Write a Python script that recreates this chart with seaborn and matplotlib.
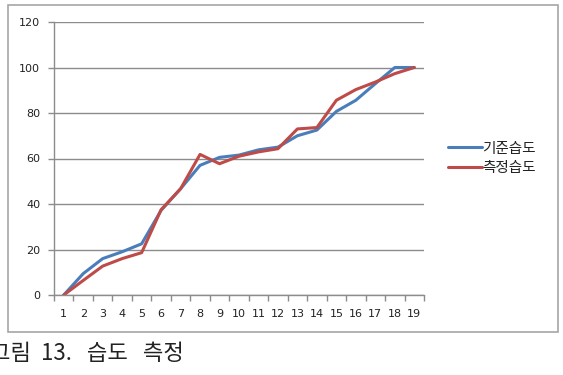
import matplotlib
matplotlib.use("Agg")
import matplotlib.pyplot as plt
import seaborn as sns
import pandas as pd
from matplotlib.patches import Rectangle

categories = list(range(1, 20))
base_humidity = [0, 9.4, 16, 19, 22.5, 37.2, 46.7, 57, 60.5, 61.5, 63.8, 65, 70, 72.5, 80.7, 85.6, 92.9, 100, 100]
measured_humidity = [0, 6.4, 12.7, 16, 18.6, 37.5, 46.7, 61.8, 57.7, 61, 62.9, 64.3, 73, 73.6, 85.6, 90.3, 93.6, 97.3, 100]
series_names = ["기준습도", "측정습도"]
caption = "그림  13.   습도   측정"

sns.set_theme(style="white")
plt.rcParams['font.family'] = ['Noto Sans CJK KR', 'DejaVu Sans']

df = pd.DataFrame({
    "x": categories * 2,
    "value": base_humidity + measured_humidity,
    "series": [series_names[0]] * 19 + [series_names[1]] * 19,
})

fig = plt.figure(figsize=(5.63, 3.75), dpi=100)
fig.patch.set_facecolor("white")
fig.patches.append(Rectangle((8 / 563, 1 - 332 / 375), (558 - 8) / 563, (332 - 5) / 375,
                             transform=fig.transFigure, fill=False, edgecolor="#a6a6a6", linewidth=1.2))
ax = fig.add_axes([54 / 563, 1 - 295 / 375, (424 - 54) / 563, (295 - 22) / 375])

palette = {series_names[0]: "#4A7EBB", series_names[1]: "#BE4B48"}
sns.lineplot(data=df, x="x", y="value", hue="series", palette=palette, linewidth=2.2, ax=ax, legend=True)

ax.set_xlim(0.5, 19.5)
ax.set_ylim(0, 120)
ax.set_yticks(range(0, 121, 20))
ax.set_xticks(categories)
ax.set_xticklabels([str(c) for c in categories])
ax.set_xticks([c + 0.5 for c in range(0, 20)], minor=True)
ax.set_xlabel("")
ax.set_ylabel("")
ax.grid(axis="y", color="#8c8c8c", linewidth=1.0)
ax.set_axisbelow(True)
for s in ["top", "right"]:
    ax.spines[s].set_visible(False)
for s in ["left", "bottom"]:
    ax.spines[s].set_color("#8c8c8c")
    ax.spines[s].set_linewidth(1.0)
ax.tick_params(axis="x", which="major", length=0, pad=10, labelsize=8, colors="#222222")
ax.tick_params(axis="x", which="minor", bottom=True, length=4, color="#8c8c8c", width=1.0)
ax.tick_params(axis="y", which="major", left=True, length=4, color="#8c8c8c", width=1.0,
               labelsize=8, labelcolor="#222222", pad=6)
for lbl in ax.get_xticklabels() + ax.get_yticklabels():
    lbl.set_fontfamily(['DejaVu Sans'])

leg = ax.legend(loc="center left", bbox_to_anchor=(1.03, 0.5), frameon=False, fontsize=10.5,
                handlelength=2.3, handletextpad=0.05, labelspacing=0.4)
for line in leg.get_lines():
    line.set_linewidth(2.2)
for t in leg.get_texts():
    t.set_color("#222222")

fig.text(-10 / 563, 1 - 353 / 375, caption, fontsize=16, va="center", ha="left", color="#222222")

fig.savefig("out.png", dpi=100, facecolor="white")
